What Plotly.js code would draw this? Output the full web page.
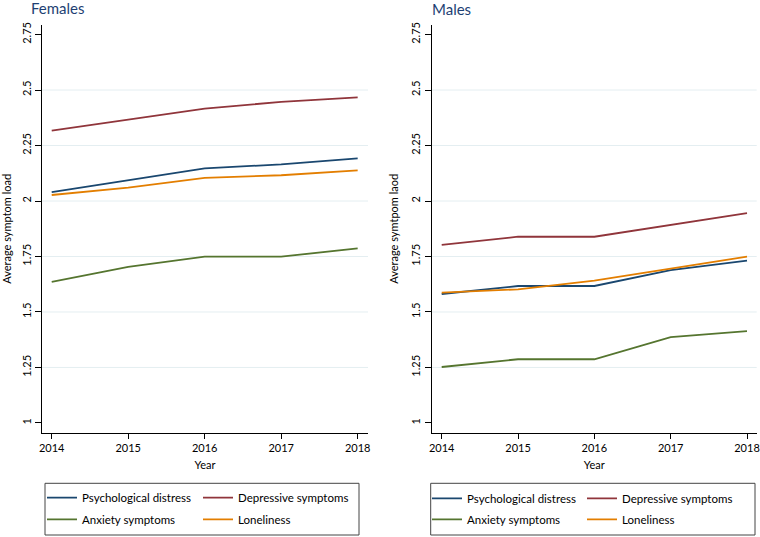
<!DOCTYPE html>
<html>
<head>
<meta charset="utf-8">
<script src="https://cdn.plot.ly/plotly-3.0.1.min.js"></script>
<style>html,body{margin:0;padding:0;background:#fff;}#chart{width:760px;height:537px;}</style>
</head>
<body>
<div id="chart"></div>
<script>
const years = [2014, 2015, 2016, 2017, 2018];
const seriesNames = ['Psychological distress', 'Depressive symptoms', 'Anxiety symptoms', 'Loneliness'];
const seriesColors = ['#1a476f', '#90353b', '#55752f', '#e37e00'];

const femalesPsych = [2.040, 2.095, 2.147, 2.165, 2.192];
const femalesDepr  = [2.317, 2.365, 2.416, 2.447, 2.467];
const femalesAnx   = [1.636, 1.703, 1.749, 1.749, 1.787];
const femalesLone  = [2.027, 2.060, 2.104, 2.116, 2.138];

const malesPsych = [1.581, 1.617, 1.617, 1.689, 1.731];
const malesDepr  = [1.802, 1.839, 1.839, 1.892, 1.945];
const malesAnx   = [1.252, 1.287, 1.287, 1.387, 1.414];
const malesLone  = [1.587, 1.602, 1.641, 1.694, 1.749];

const yTickVals = [1, 1.25, 1.5, 1.75, 2, 2.25, 2.5, 2.75];
const yTickText = ['1', '1.25', '1.5', '1.75', '2', '2.25', '2.5', '2.75'];
const gridVals = [1.25, 1.5, 1.75, 2, 2.25, 2.5];

const FONT = 'Lato, "Open Sans", sans-serif';
const femaleSeries = [femalesPsych, femalesDepr, femalesAnx, femalesLone];
const maleSeries = [malesPsych, malesDepr, malesAnx, malesLone];
// legend rows: row1 = Psych, Depressive; row2 = Anxiety, Loneliness
const femaleLegends = ['legend', 'legend', 'legend2', 'legend2'];
const maleLegends = ['legend3', 'legend3', 'legend4', 'legend4'];

const data = [];
femaleSeries.forEach((vals, i) => {
  data.push({x: years, y: vals, type: 'scatter', mode: 'lines', name: seriesNames[i],
    line: {color: seriesColors[i], width: 1.8}, xaxis: 'x', yaxis: 'y', legend: femaleLegends[i]});
});
maleSeries.forEach((vals, i) => {
  data.push({x: years, y: vals, type: 'scatter', mode: 'lines', name: seriesNames[i],
    line: {color: seriesColors[i], width: 1.8}, xaxis: 'x2', yaxis: 'y2', legend: maleLegends[i]});
});

const axisCommonX = {
  tickvals: years, ticks: 'outside', ticklen: 5, tickcolor: '#000',
  showline: true, linecolor: '#000', linewidth: 1, showgrid: false, zeroline: false,
  tickfont: {family: FONT, size: 11, color: '#000'}
};
const axisCommonY = {
  range: [0.956, 2.793], tickvals: yTickVals, ticktext: yTickText, tickangle: -90,
  ticks: 'outside', ticklen: 6, tickcolor: '#000',
  showline: true, linecolor: '#000', linewidth: 1, showgrid: false, zeroline: false,
  tickfont: {family: FONT, size: 11, color: '#000'}
};

const legendCommon = {
  orientation: 'h', xref: 'paper', yref: 'paper', xanchor: 'left', yanchor: 'middle',
  bgcolor: 'rgba(0,0,0,0)', borderwidth: 0, entrywidthmode: 'pixels',
  font: {family: FONT, size: 11.5, color: '#000'}, itemclick: false, tracegroupgap: 0
};

const shapes = [];
gridVals.forEach(v => {
  ['y', 'y2'].forEach((ya, k) => {
    shapes.push({type: 'line', xref: k === 0 ? 'x domain' : 'x2 domain', yref: ya,
      x0: 0, x1: 1, y0: v, y1: v, line: {color: '#e4eef1', width: 1}, layer: 'below'});
  });
});
// legend boxes
shapes.push({type: 'rect', xref: 'paper', yref: 'paper', x0: 45/760, x1: 359/760,
  y0: (537-535)/537, y1: (537-483.3)/537, line: {color: '#444', width: 1}});
shapes.push({type: 'rect', xref: 'paper', yref: 'paper', x0: 430.7/760, x1: 755/760,
  y0: (537-535)/537, y1: (537-483.3)/537, line: {color: '#444', width: 1}});

const layout = {
  width: 760, height: 537,
  margin: {l: 0, r: 0, t: 0, b: 0, autoexpand: false},
  paper_bgcolor: '#fff', plot_bgcolor: '#fff',
  font: {family: FONT, color: '#000'},
  showlegend: true,
  xaxis: Object.assign({}, axisCommonX, {domain: [42/760, 368/760], range: [2013.873, 2018.135],
    title: {text: 'Year', font: {family: FONT, size: 11, color: '#000'}, standoff: 8}}),
  yaxis: Object.assign({}, axisCommonY, {domain: [(537-432.7)/537, (537-25)/537],
    title: {text: 'Average symptom load', font: {family: FONT, size: 11, color: '#000'}, standoff: 8}}),
  xaxis2: Object.assign({}, axisCommonX, {domain: [431.7/760, 756.7/760], range: [2013.869, 2018.127], anchor: 'y2',
    title: {text: 'Year', font: {family: FONT, size: 11, color: '#000'}, standoff: 8}}),
  yaxis2: Object.assign({}, axisCommonY, {domain: [(537-432.7)/537, (537-25)/537], anchor: 'x2',
    title: {text: 'Average symtpom laod', font: {family: FONT, size: 11, color: '#000'}, standoff: 8}}),
  legend: Object.assign({}, legendCommon, {x: 42/760, y: (537-497.7)/537, entrywidth: 111}),
  legend2: Object.assign({}, legendCommon, {x: 42/760, y: (537-519.3)/537, entrywidth: 111}),
  legend3: Object.assign({}, legendCommon, {x: 427/760, y: (537-498.3)/537, entrywidth: 110}),
  legend4: Object.assign({}, legendCommon, {x: 427/760, y: (537-519.3)/537, entrywidth: 110}),
  shapes: shapes,
  annotations: [
    {text: 'Females', xref: 'paper', yref: 'paper', x: 58/760, y: (537-8)/537, xanchor: 'center', yanchor: 'middle',
      showarrow: false, font: {family: FONT, size: 15, color: '#1e3f73'}},
    {text: 'Males', xref: 'paper', yref: 'paper', x: 452/760, y: (537-9)/537, xanchor: 'center', yanchor: 'middle',
      showarrow: false, font: {family: FONT, size: 15, color: '#1e3f73'}}
  ]
};

Plotly.newPlot('chart', data, layout, {displayModeBar: false, staticPlot: true});
</script>
</body>
</html>
